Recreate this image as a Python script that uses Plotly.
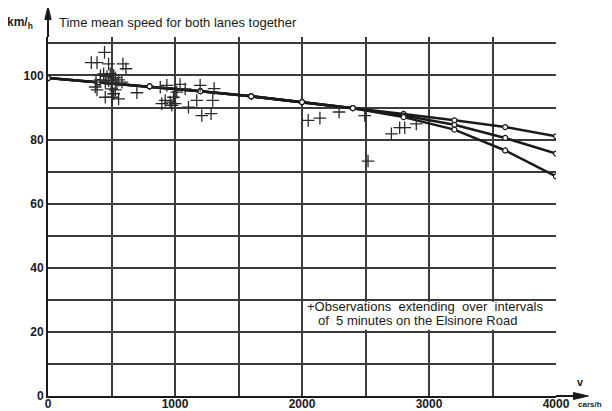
import plotly.graph_objects as go

# ---------------- data ----------------
curve_x = [0, 400, 800, 1200, 1600, 2000, 2400, 2800, 3200, 3600, 4000]
common_y = [99.2, 97.9, 96.6, 95.1, 93.5, 91.7, 89.8]
upper_tail = [88.0, 86.0, 83.9, 81.0]
middle_tail = [87.5, 84.6, 80.5, 75.6]
lower_tail = [87.0, 83.1, 76.6, 68.5]

obs_x = [445, 341, 386, 477, 590, 614, 372, 386, 451, 504, 556, 700,
         413, 438, 464, 490, 517, 530, 556, 477, 451, 504, 543, 582, 530, 498, 517, 412, 378,
         936, 1040, 1198, 1308, 1171, 1297, 1106, 1211, 1284, 896, 923, 962, 988, 1001, 975,
         1014, 1080, 884,
         2049, 2141, 2292, 2494, 2520, 2704, 2769, 2809, 2900]
obs_y = [107.2, 104.0, 104.0, 103.6, 103.6, 102.1, 96.4, 95.5, 93.2, 93.2, 92.7, 94.6,
         100.0, 100.5, 99.7, 100.5, 100.0, 99.3, 98.6, 98.4, 97.9, 97.4, 97.4, 97.9, 95.5, 95.8, 94.3, 98.6, 97.9,
         96.9, 97.2, 96.9, 95.9, 92.2, 92.2, 90.1, 87.5, 88.1, 91.2, 92.2, 91.7, 93.2, 91.2, 90.7,
         94.8, 95.8, 96.3,
         86.0, 86.7, 88.6, 87.5, 73.3, 81.8, 83.7, 83.7, 84.9]

x_ticks = [0, 1000, 2000, 3000, 4000]
y_ticks = [0, 20, 40, 60, 80, 100]

title_text = "Time mean speed for both lanes together"
y_unit = "km/<sub>h</sub>"
x_unit = "cars/h"
x_symbol = "v"
note_line1 = "+Observations  extending  over  intervals"
note_line2 = "of  5 minutes on the Elsinore Road"

# ---------------- layout geometry ----------------
# the page body has an 8 px margin, so the figure starts at (8, 8) in the window
OFF = 8
W, H = 604, 403
L, R, T, B = 39.5, 55.5, 28.5, 15
PW, PH = W - L - R, H - T - B


def px(xw):
    """window x pixel -> paper x"""
    return (xw - OFF - L) / PW


def py(yw):
    """window y pixel -> paper y"""
    return (H - B - (yw - OFF)) / PH


FONT = "Liberation Sans, Arial, sans-serif"
INK = "#1a1a1a"
GRID = "#3c3c3c"

fig = go.Figure()

for tail in (upper_tail, middle_tail, lower_tail):
    fig.add_trace(go.Scatter(
        x=curve_x, y=common_y + tail, mode="lines",
        line=dict(color=INK, width=2.5), showlegend=False, hoverinfo="skip"))
for tail in (upper_tail, middle_tail, lower_tail):
    fig.add_trace(go.Scatter(
        x=curve_x, y=common_y + tail, mode="markers",
        marker=dict(symbol="circle", size=5, color="white",
                    line=dict(color=INK, width=1.2)),
        showlegend=False, hoverinfo="skip"))

fig.add_trace(go.Scatter(
    x=obs_x, y=obs_y, mode="markers",
    marker=dict(symbol="cross-thin", size=9, line=dict(color="#2a2a2a", width=1.3)),
    showlegend=False, hoverinfo="skip"))

shapes = [
    # white box behind the note
    dict(type="rect", xref="x", yref="y", x0=2012, x1=3920, y0=20.7, y1=29.4,
         fillcolor="white", line=dict(width=0), layer="above"),
    # y axis extension + arrowhead
    dict(type="line", xref="paper", yref="paper", x0=0, x1=0, y0=1, y1=py(16),
         line=dict(color=INK, width=2)),
    dict(type="path", xref="paper", yref="paper",
         path=f"M {px(47.5)} {py(6)} L {px(44.3)} {py(19)} L {px(50.7)} {py(19)} Z",
         fillcolor=INK, line=dict(color=INK, width=1)),
    # x axis extension + arrowhead
    dict(type="line", xref="paper", yref="paper", x0=1, x1=px(580), y0=0, y1=0,
         line=dict(color=INK, width=2)),
    dict(type="path", xref="paper", yref="paper",
         path=f"M {px(589)} {py(396)} L {px(574)} {py(392.5)} L {px(574)} {py(399.5)} Z",
         fillcolor=INK, line=dict(color=INK, width=1)),
]

annotations = [
    dict(xref="paper", yref="paper", x=px(57), y=py(22), xanchor="left", yanchor="middle",
         text=title_text, showarrow=False, font=dict(family=FONT, size=13, color=INK)),
    dict(xref="paper", yref="paper", x=px(4), y=py(22), xanchor="left", yanchor="middle",
         text=f"<b>{y_unit}</b>", showarrow=False, font=dict(family=FONT, size=12, color=INK)),
    dict(xref="paper", yref="paper", x=px(581), y=py(382), xanchor="center", yanchor="middle",
         text=f"<b>{x_symbol}</b>", showarrow=False, font=dict(family=FONT, size=11, color=INK)),
    dict(xref="paper", yref="paper", x=px(604.5), y=py(405), xanchor="right", yanchor="middle",
         text=f"<b>{x_unit}</b>", showarrow=False, font=dict(family=FONT, size=8, color=INK)),
    dict(xref="x", yref="y", x=2025, y=28.0, xanchor="left", yanchor="middle",
         text=note_line1, showarrow=False, font=dict(family=FONT, size=13, color=INK)),
    dict(xref="x", yref="y", x=2110, y=23.6, xanchor="left", yanchor="middle",
         text=note_line2, showarrow=False, font=dict(family=FONT, size=13, color=INK)),
]

fig.update_layout(
    width=W, height=H,
    margin=dict(l=L, r=R, t=T, b=B, pad=0),
    paper_bgcolor="white", plot_bgcolor="white",
    showlegend=False,
    shapes=shapes, annotations=annotations,
    xaxis=dict(range=[0, 4000], tickvals=x_ticks, ticktext=[f"<b>{v}</b>" for v in x_ticks],
               showgrid=True, gridcolor=GRID, gridwidth=1.6,
               minor=dict(tick0=0, dtick=500, showgrid=True, gridcolor=GRID, gridwidth=1.6),
               showline=True, linecolor=INK, linewidth=2, zeroline=False,
               ticks="", ticklen=0, automargin=False, ticklabelstandoff=-4,
               tickfont=dict(family=FONT, size=12, color=INK)),
    yaxis=dict(range=[0, 112], tickvals=y_ticks, ticktext=[f"<b>{v}</b>" for v in y_ticks],
               showgrid=True, gridcolor=GRID, gridwidth=1.6,
               minor=dict(tick0=0, dtick=10, showgrid=True, gridcolor=GRID, gridwidth=1.6),
               showline=True, linecolor=INK, linewidth=2, zeroline=False,
               ticks="", ticklen=0, automargin=False,
               tickfont=dict(family=FONT, size=12, color=INK)),
)

fig.write_html("out.html")
